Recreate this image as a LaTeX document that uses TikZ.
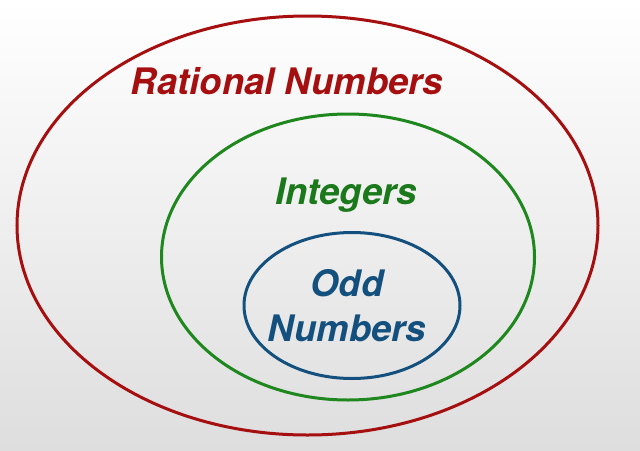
\documentclass[tikz,border=0pt]{standalone}
\usepackage{fontspec}
\setmainfont{TeX Gyre Heros}
\usepackage{tikz}
\definecolor{ratred}{RGB}{165,15,15}
\definecolor{intgreen}{RGB}{30,135,30}
\definecolor{oddblue}{RGB}{20,80,125}
\tikzset{set/.style = {line width = 3pt},
  setlabel/.style = {font = \fontsize{36.5}{45}\selectfont\bfseries\itshape, inner sep = 0, align = center}}

\begin{document}
\begin{tikzpicture}[x=1pt, y=-1pt]
    \shade [top color=white, bottom color=black!13] (0, 0) rectangle (640, 450);
    \useasboundingbox (0, 0) rectangle (640, 450);

    \draw [set, ratred] (307.5, 225.5) ellipse (290.5 and 209.5);
    \draw [set, intgreen] (348, 257) ellipse (186.5 and 143);
    \draw [set, oddblue] (352, 305.5) ellipse (108 and 73);

    \node [setlabel, ratred, anchor=base] (rational) at (287, 94) {Rational Numbers};
    \node [setlabel, intgreen!90!black, anchor=base] (integers) at (346, 204) {Integers};
    \node [setlabel, oddblue] (odd) at (347, 306) {Odd\\Numbers};
  \end{tikzpicture}
\end{document}
